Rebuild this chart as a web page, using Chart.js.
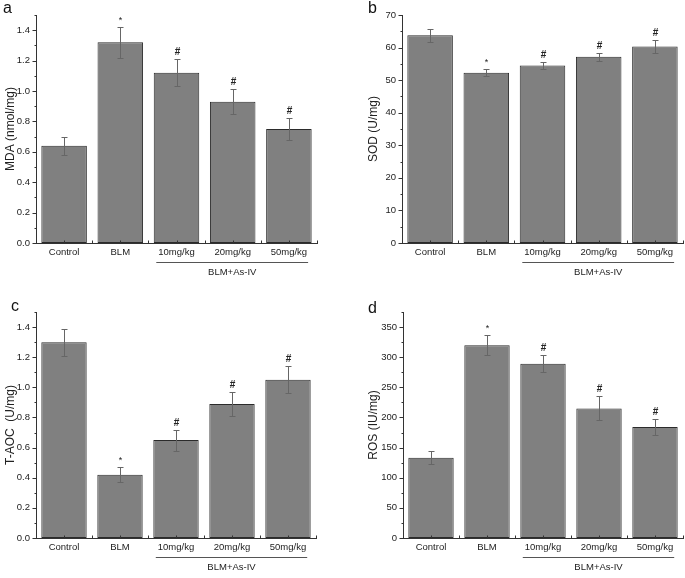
<!DOCTYPE html>
<html>
<head>
<meta charset="utf-8">
<script src="https://cdn.jsdelivr.net/npm/chart.js@4/dist/chart.umd.min.js"></script>
<style>
html, body { margin: 0; padding: 0; background: #fff; }
#wrap { position: relative; width: 685px; height: 578px; overflow: hidden; }
#wrap canvas { position: absolute; }
</style>
</head>
<body>
<div id="wrap"></div>
<script>
// groups on the x axis
const categories = ['Control', 'BLM', '10mg/kg', '20mg/kg', '50mg/kg'];
const groupLabel = 'BLM+As-IV';
const sigMarks = ['', '*', '#', '#', '#'];

// a: MDA
const mdaValues = [0.64, 1.32, 1.12, 0.93, 0.75];
const mdaErrors = [0.06, 0.10, 0.09, 0.08, 0.07];
// b: SOD
const sodValues = [63.8, 52.3, 54.5, 57.2, 60.3];
const sodErrors = [2.0, 1.1, 1.2, 1.2, 1.9];
// c: T-AOC
const taocValues = [1.30, 0.42, 0.65, 0.89, 1.05];
const taocErrors = [0.09, 0.05, 0.07, 0.08, 0.09];
// d: ROS
const rosValues = [133, 320, 289, 215, 184];
const rosErrors = [11, 17, 14, 20, 13];

const FONT = "'Liberation Sans', Arial, sans-serif";

// panel layout (page pixels)
const panels = [
    { letter: 'a', title: 'MDA (nmol/mg)', values: mdaValues, errors: mdaErrors, max: 1.5, step: 0.2, minor: 0.1, dec: 1,
      box: { left: 0, top: 0, w: 342, h: 290 }, area: { left: 36, right: 317, top: 15, bottom: 243 }, titleX: 10, letterX: 3, letterY: 13 },
    { letter: 'b', title: 'SOD (U/mg)', values: sodValues, errors: sodErrors, max: 70, step: 10, minor: 5, dec: 0,
      box: { left: 342, top: 0, w: 343, h: 290 }, area: { left: 402, right: 683, top: 15, bottom: 243 }, titleX: 373, letterX: 368, letterY: 13 },
    { letter: 'c', title: 'T-AOC  (U/mg)', values: taocValues, errors: taocErrors, max: 1.5, step: 0.2, minor: 0.1, dec: 1,
      box: { left: 0, top: 290, w: 342, h: 288 }, area: { left: 36, right: 316, top: 312, bottom: 538 }, titleX: 10, letterX: 11, letterY: 311 },
    { letter: 'd', title: 'ROS (IU/mg)', values: rosValues, errors: rosErrors, max: 375, step: 50, minor: 25, dec: 0,
      box: { left: 342, top: 290, w: 343, h: 288 }, area: { left: 403, right: 683, top: 312, bottom: 538 }, titleX: 373, letterX: 368, letterY: 313 }
];

// error bars, significance marks, axis ticks, group underline, panel letter
const extrasPlugin = {
    id: 'extras',
    afterDatasetsDraw(chart, args, opts) {
        const ctx = chart.ctx;
        const y = chart.scales.y;
        const vals = chart.data.datasets[0].data;
        ctx.save();
        chart.getDatasetMeta(0).data.forEach((bar, i) => {
            const cx = Math.round(bar.x) + 0.5;
            const top = Math.round(y.getPixelForValue(vals[i] + opts.errors[i])) + 0.5;
            const bot = Math.round(y.getPixelForValue(vals[i] - opts.errors[i])) + 0.5;
            ctx.strokeStyle = '#666';
            ctx.lineWidth = 1;
            ctx.beginPath();
            ctx.moveTo(cx, top); ctx.lineTo(cx, bot);
            ctx.moveTo(cx - 3, top); ctx.lineTo(cx + 3, top);
            ctx.moveTo(cx - 3, bot); ctx.lineTo(cx + 3, bot);
            ctx.stroke();
            const m = sigMarks[i];
            if (m) {
                ctx.fillStyle = '#222';
                ctx.font = (m === '#' ? 'bold 10px ' : '9px ') + FONT;
                ctx.textAlign = 'center';
                ctx.textBaseline = 'bottom';
                ctx.fillText(m, cx, top - 2);
            }
        });
        ctx.restore();
    },
    afterDraw(chart, args, opts) {
        const ctx = chart.ctx;
        const x = chart.scales.x, y = chart.scales.y;
        const area = chart.chartArea;
        ctx.save();
        ctx.strokeStyle = '#333';
        ctx.lineWidth = 1;
        ctx.beginPath();
        // y ticks, outward
        const ax = Math.round(area.left) + 0.5;
        for (let v = 0; v <= opts.max + 1e-9; v += opts.minor) {
            const py = Math.round(y.getPixelForValue(v)) + 0.5;
            const major = Math.abs(v / opts.step - Math.round(v / opts.step)) < 1e-6;
            ctx.moveTo(ax - (major ? 4 : 2), py);
            ctx.lineTo(ax, py);
        }
        // x ticks, inward, at centres and boundaries
        const by = Math.round(area.bottom) + 0.5;
        const cw = x.getPixelForValue(1) - x.getPixelForValue(0);
        categories.forEach((c, i) => {
            const cx = Math.round(x.getPixelForValue(i)) + 0.5;
            ctx.moveTo(cx, by); ctx.lineTo(cx, by - 3);
            const bx = Math.round(x.getPixelForValue(i) + cw / 2) + 0.5;
            ctx.moveTo(bx, by); ctx.lineTo(bx, by - 3);
        });
        ctx.stroke();

        // group underline + label
        ctx.font = '9.5px ' + FONT;
        const w2 = ctx.measureText(categories[2]).width;
        const w4 = ctx.measureText(categories[4]).width;
        const l = x.getPixelForValue(2) - w2 / 2 - 2;
        const r = x.getPixelForValue(4) + w4 / 2 + 1;
        const ly = Math.round(area.bottom + 19) + 0.5;
        ctx.strokeStyle = '#555';
        ctx.beginPath();
        ctx.moveTo(l, ly); ctx.lineTo(r, ly);
        ctx.stroke();
        ctx.fillStyle = '#222';
        ctx.textAlign = 'center';
        ctx.textBaseline = 'middle';
        ctx.fillText(groupLabel, (l + r) / 2, area.bottom + 29);

        // panel letter
        ctx.font = '16px ' + FONT;
        ctx.fillStyle = '#111';
        ctx.textAlign = 'left';
        ctx.textBaseline = 'alphabetic';
        ctx.fillText(opts.letter, opts.letterX, opts.letterY);
        ctx.restore();
    }
};

const wrap = document.getElementById('wrap');

panels.forEach(p => {
    const canvas = document.createElement('canvas');
    canvas.width = p.box.w;
    canvas.height = p.box.h;
    canvas.style.left = p.box.left + 'px';
    canvas.style.top = p.box.top + 'px';
    canvas.style.width = p.box.w + 'px';
    canvas.style.height = p.box.h + 'px';
    wrap.appendChild(canvas);

    const padLeft = Math.max(0, Math.round(p.titleX - p.box.left - 10.2));
    const yWidth = p.area.left - p.box.left - padLeft;
    const xHeight = p.box.top + p.box.h - p.area.bottom;

    new Chart(canvas.getContext('2d'), {
        type: 'bar',
        data: {
            labels: categories,
            datasets: [{
                data: p.values,
                backgroundColor: '#808080',
                borderColor: '#2b2b2b',
                borderWidth: 1,
                borderSkipped: false,
                categoryPercentage: 1.0,
                barPercentage: 0.81
            }]
        },
        options: {
            responsive: false,
            animation: false,
            devicePixelRatio: 1,
            layout: {
                padding: {
                    left: padLeft,
                    right: p.box.left + p.box.w - p.area.right,
                    top: p.area.top - p.box.top,
                    bottom: 0
                }
            },
            plugins: {
                legend: { display: false },
                tooltip: { enabled: false },
                extras: {
                    errors: p.errors,
                    letter: p.letter, letterX: p.letterX - p.box.left, letterY: p.letterY - p.box.top,
                    max: p.max, step: p.step, minor: p.minor
                }
            },
            scales: {
                x: {
                    type: 'category',
                    offset: true,
                    grid: { display: false, drawTicks: false },
                    border: { display: true, color: '#333', width: 1 },
                    ticks: {
                        color: '#222',
                        font: { family: FONT, size: 9.5 },
                        padding: 4,
                        maxRotation: 0,
                        autoSkip: false
                    },
                    afterFit: s => { s.height = xHeight; }
                },
                y: {
                    min: 0,
                    max: p.max,
                    bounds: 'data',
                    grid: { display: false, drawTicks: false },
                    border: { display: true, color: '#333', width: 1 },
                    ticks: {
                        stepSize: p.step,
                        color: '#222',
                        font: { family: FONT, size: 9.5 },
                        padding: 6,
                        // the top bound (1.5, 375) carries no label
                        callback: v => {
                            const k = v / p.step;
                            return Math.abs(k - Math.round(k)) < 1e-6 ? Number(v).toFixed(p.dec) : '';
                        }
                    },
                    title: {
                        display: true,
                        text: p.title,
                        color: '#222',
                        font: { family: FONT, size: 12 },
                        padding: { top: 3, bottom: 0 }
                    },
                    afterFit: s => { s.width = yWidth; }
                }
            }
        },
        plugins: [extrasPlugin]
    });
});
</script>
</body>
</html>
